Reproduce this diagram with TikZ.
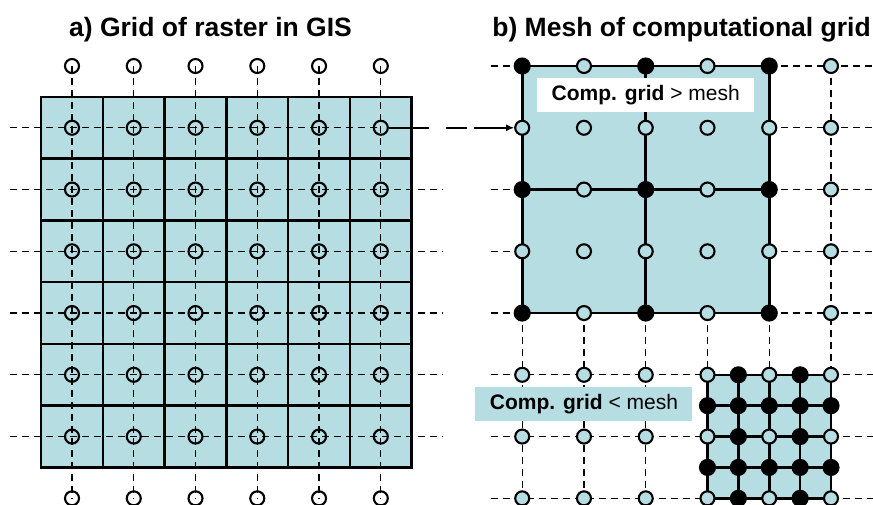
\documentclass[tikz,border=0pt]{standalone}
\usepackage{fontspec}
\setmainfont{Liberation Sans}
\usetikzlibrary{arrows.meta,backgrounds}

\definecolor{cellblue}{RGB}{181,221,226}

\tikzset{
    cell/.style={draw=black, line width=2.4pt, fill=cellblue},
    meshline/.style={line width=2.6pt},
    gridline/.style={line width=1.3pt, dash pattern=on 7pt off 5pt},
    linkline/.style={line width=1.8pt, dash pattern=on 40pt off 17pt on 21pt off 7pt, -{Latex[length=8pt,width=7pt]}},
    rastpt/.style={circle, draw, line width=2.1pt, minimum size=14pt, inner sep=0pt},
    meshpt/.style={rastpt, fill=cellblue},
    blackpt/.style={rastpt, fill=black, minimum size=15pt},
    title/.style={font=\fontsize{26.5}{30}\selectfont\bfseries, anchor=base},
    tag/.style={font=\fontsize{21}{24}\selectfont, minimum width=217pt, minimum height=34pt, inner sep=0pt},
}

\begin{document}
\begin{tikzpicture}[x=61.75pt, y=-61.75pt]
    \useasboundingbox (-1.166,-1.069) rectangle (12.97,7.093);
    \node[title] (ta) at (2.243,-0.47) {a) Grid of raster in GIS};
    \node[title] (tb) at (9.87,-0.47) {b) Mesh of computational grid};

    % a) Raster cells and their centres
    \foreach \i in {0,...,5}
        \foreach \j in {0,...,7}
            \node[rastpt] (a-\i-\j) at (\i,\j) {};
    \foreach \j in {1,...,6} {
        \coordinate (aw-\j) at (-1,\j);
        \coordinate (ae-\j) at (6,\j);
    }
    \begin{scope}[on background layer]
        \foreach \i in {0,...,5}
            \foreach \j in {1,...,6}
                \draw[cell] (\i-0.5,\j-0.5) rectangle (\i+0.5,\j+0.5);
        \foreach \i in {0,...,5}
            \draw[gridline] (a-\i-0.center) -- (a-\i-7.center);
        \draw[gridline] (aw-1) -- (a-5-1.center);
        \foreach \j in {2,...,6}
            \draw[gridline] (aw-\j) -- (ae-\j);
    \end{scope}

    % b) Computational grid
    \begin{scope}[shift={(7.29,0)}]
        \foreach \k in {0,...,5}
            \foreach \j in {0,...,7} {
                \pgfmathtruncatemacro\dark{and(and(iseven(\k),iseven(\j)),and(\k<5,\j<5))}
                \pgfmathtruncatemacro\fine{and(\k>2,\j>4)}
                \ifnum\fine=0
                    \ifnum\dark=1
                        \node[blackpt] (b-\k-\j) at (\k,\j) {};
                    \else
                        \node[meshpt] (b-\k-\j) at (\k,\j) {};
                    \fi
                \fi
            }
        % finer mesh
        \foreach \p in {0,...,4}
            \foreach \q in {0,...,4} {
                \pgfmathtruncatemacro\dark{or(isodd(\p),isodd(\q))}
                \ifnum\dark=1
                    \node[blackpt] (f-\p-\q) at (3+\p/2,5+\q/2) {};
                \else
                    \node[meshpt] (f-\p-\q) at (3+\p/2,5+\q/2) {};
                \fi
            }
        \foreach \j in {0,...,7} {
            \coordinate (bw-\j) at (-0.5,\j);
            \coordinate (be-\j) at (5.7,\j);
        }
        \node[tag, fill=white] (gt) at (2,0.47) {\textbf{Comp. grid} > mesh};
        \node[tag, fill=cellblue] (lt) at (1,5.47) {\textbf{Comp. grid} < mesh};

        \begin{scope}[on background layer]
            \fill[cellblue] (b-0-0.center) rectangle (b-4-4.center);
            \fill[cellblue] (f-0-0.center) rectangle (f-4-4.center);
            % dashed lines
            \foreach \j in {0,...,4}
                \draw[gridline] (b-4-\j.center) -- (be-\j);
            \foreach \j in {0,2,3,4}
                \draw[gridline] (bw-\j) -- (b-0-\j.center);
            \foreach \j/\q in {5/0,6/2,7/4} {
                \draw[gridline] (bw-\j) -- (f-0-\q.center);
                \draw[gridline] (f-4-\q.center) -- (be-\j);
            }
            \foreach \k in {0,1,2}
                \draw[gridline] (b-\k-4.center) -- (b-\k-7.center);
            \draw[gridline] (b-3-4.center) -- (f-0-0.center);
            \draw[gridline] (b-4-4.center) -- (f-2-0.center);
            \draw[gridline] (b-5-0.center) -- (f-4-0.center);
            % mesh lines
            \draw[meshline] (b-0-0.center) rectangle (b-4-4.center);
            \draw[meshline] (b-2-0.center) -- (b-2-4.center);
            \draw[meshline] (b-0-2.center) -- (b-4-2.center);
            \foreach \p in {0,...,4} {
                \draw[meshline] (f-\p-0.center) -- (f-\p-4.center);
                \draw[meshline] (f-0-\p.center) -- (f-4-\p.center);
            }
        \end{scope}
    \end{scope}

    \draw[linkline] (a-5-1) -- (b-0-1);
\end{tikzpicture}
\end{document}
